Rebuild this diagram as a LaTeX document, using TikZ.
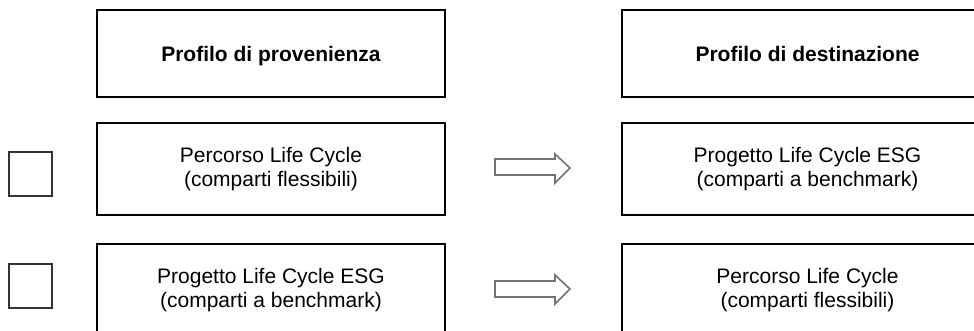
\documentclass[tikz,border=0pt]{standalone}
\usepackage{fontspec}
\setmainfont{Liberation Sans}
\begin{document}
\begin{tikzpicture}[x=1pt,y=-1pt,
  box/.style={draw, line width=2.2pt, inner sep=0pt, align=center,
    font=\fontsize{21}{23.5}\selectfont},
  lbox/.style={box, minimum width=348pt},
  rbox/.style={box, minimum width=371pt},
  chk/.style={draw=black!80, line width=1.1pt, minimum width=43pt, minimum height=44pt, inner sep=0pt},
  fatarrow/.style={draw=black!55, line width=1.6pt, fill=white, line join=miter}]
\useasboundingbox (0,0) rectangle (974,331);
\clip (0,0) rectangle (974,331);
\node[lbox, minimum height=87pt] (h1) at (271,53.5) {\raisebox{0pt}[16.5pt][0pt]{\textbf{Profilo di provenienza}}};
\node[rbox, minimum height=87pt] (h2) at (807.5,53.5) {\raisebox{0pt}[16.5pt][0pt]{\textbf{Profilo di destinazione}}};
\node[lbox, minimum height=92pt] (a1) at (271,169) {Percorso Life Cycle\\(comparti flessibili)};
\node[rbox, minimum height=92pt] (b1) at (807.5,169) {Progetto Life Cycle ESG\\(comparti a benchmark)};
\node[lbox, minimum height=92pt] (a2) at (271,290) {Progetto Life Cycle ESG\\(comparti a benchmark)};
\node[rbox, minimum height=92pt] (b2) at (807.5,290) {Percorso Life Cycle\\(comparti flessibili)};
\node[chk] (c1) at (30.5,174) {};
\node[chk] (c2) at (30.5,286) {};
\draw[fatarrow] (495,159) -- (555,159) -- (555,154) -- (570,168) -- (555,183) -- (555,175) -- (495,175) -- cycle;
\draw[fatarrow] (495,281) -- (555,281) -- (555,275) -- (570,289) -- (555,304) -- (555,297) -- (495,297) -- cycle;
\end{tikzpicture}
\end{document}
